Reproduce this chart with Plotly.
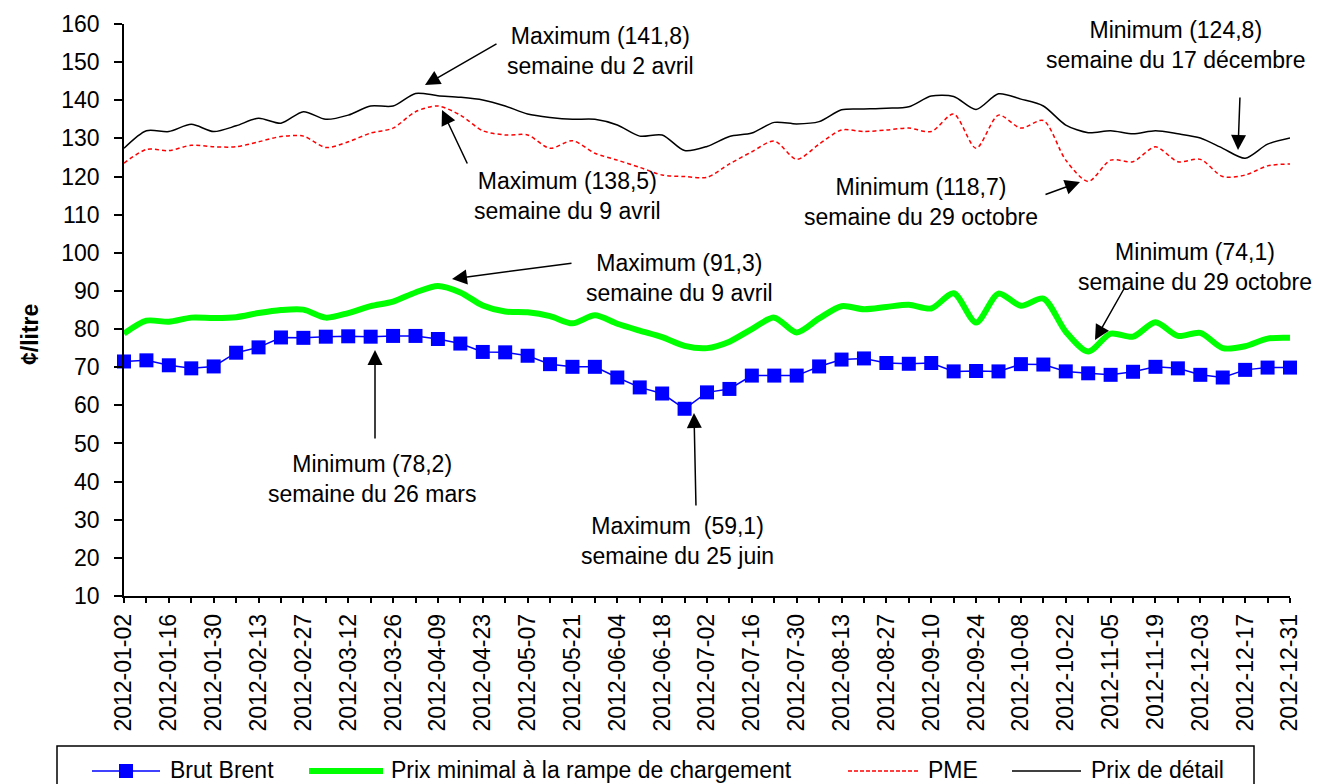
import plotly.graph_objects as go

# ---------------- data ----------------
weeks = [
    "2012-01-02", "2012-01-09", "2012-01-16", "2012-01-23", "2012-01-30",
    "2012-02-06", "2012-02-13", "2012-02-20", "2012-02-27",
    "2012-03-05", "2012-03-12", "2012-03-19", "2012-03-26",
    "2012-04-02", "2012-04-09", "2012-04-16", "2012-04-23", "2012-04-30",
    "2012-05-07", "2012-05-14", "2012-05-21", "2012-05-28",
    "2012-06-04", "2012-06-11", "2012-06-18", "2012-06-25",
    "2012-07-02", "2012-07-09", "2012-07-16", "2012-07-23", "2012-07-30",
    "2012-08-06", "2012-08-13", "2012-08-20", "2012-08-27",
    "2012-09-03", "2012-09-10", "2012-09-17", "2012-09-24",
    "2012-10-01", "2012-10-08", "2012-10-15", "2012-10-22", "2012-10-29",
    "2012-11-05", "2012-11-12", "2012-11-19", "2012-11-26",
    "2012-12-03", "2012-12-10", "2012-12-17", "2012-12-24", "2012-12-31",
]

brut_brent = [
    71.5, 71.8, 70.5, 69.7, 70.2, 73.8, 75.2, 77.8, 77.7, 78.0,
    78.1, 78.0, 78.2, 78.2, 77.4, 76.2, 74.0, 73.9, 73.0, 70.8,
    70.1, 70.1, 67.3, 64.7, 63.1, 59.1, 63.4, 64.3, 67.8, 67.8,
    67.8, 70.2, 72.0, 72.3, 71.1, 70.9, 71.1, 68.9, 69.0, 68.9,
    70.8, 70.7, 68.9, 68.4, 68.0, 68.8, 70.1, 69.7, 68.0, 67.3,
    69.3, 69.9, 69.9,
]

prix_rampe = [
    78.8, 82.2, 81.9, 83.0, 82.9, 83.1, 84.2, 85.0, 85.1, 83.0,
    84.2, 86.0, 87.2, 89.6, 91.3, 89.6, 86.2, 84.6, 84.4, 83.4,
    81.5, 83.6, 81.4, 79.6, 77.9, 75.6, 75.0, 76.7, 80.0, 83.0,
    79.1, 82.8, 86.0, 85.2, 85.8, 86.4, 85.4, 89.4, 81.7, 89.3,
    86.1, 88.0, 79.3, 74.1, 78.8, 78.0, 81.8, 78.2, 79.0, 75.0,
    75.5, 77.5, 77.7,
]

pme = [
    123.5, 127.1, 126.8, 128.2, 127.8, 127.8, 129.1, 130.5, 130.6, 127.6,
    129.1, 131.4, 132.7, 137.0, 138.5, 136.1, 132.0, 130.9, 130.9, 127.4,
    129.4, 126.1, 124.3, 122.4, 120.4, 120.0, 119.8, 123.3, 126.5, 129.3,
    124.5, 128.5, 132.2, 131.8, 132.2, 132.7, 131.8, 136.4, 127.4, 136.1,
    132.7, 134.7, 124.3, 118.7, 124.3, 123.9, 127.8, 123.9, 124.5, 120.0,
    120.4, 122.8, 123.3,
]

prix_detail = [
    127.4, 132.0, 131.8, 133.7, 131.8, 133.3, 135.3, 134.0, 137.0, 135.0,
    136.1, 138.5, 138.5, 141.8, 141.2, 140.8, 140.1, 138.5, 136.4, 135.5,
    135.0, 135.0, 133.5, 130.6, 130.9, 126.8, 127.9, 130.5, 131.4, 134.2,
    133.8, 134.4, 137.5, 137.7, 137.9, 138.3, 141.1, 141.0, 137.6, 141.7,
    140.3, 138.5, 133.5, 131.5, 132.0, 131.2, 132.0, 131.2, 130.1, 127.4,
    124.8, 128.5, 130.1,
]

series_names = ["Brut Brent", "Prix minimal à la rampe de chargement", "PME", "Prix de détail"]
series_colors = ["#0000FF", "#00FF00", "#FF0000", "#000000"]
y_axis_title = "¢/litre"
y_ticks = list(range(10, 161, 10))
x_tick_labels = [w if i % 2 == 0 else "" for i, w in enumerate(weeks)]

notes = [
    "Maximum (141,8)<br>semaine du 2 avril",
    "Maximum (138,5)<br>semaine du 9 avril",
    "Minimum (124,8)<br>semaine du 17 décembre",
    "Minimum (118,7)<br>semaine du 29 octobre",
    "Maximum (91,3)<br>semaine du 9 avril",
    "Minimum (74,1)<br>semaine du 29 octobre",
    "Minimum (78,2)<br>semaine du 26 mars",
    "Maximum\u00a0 (59,1)<br>semaine du 25 juin",
]

# ---------------- layout helpers (pixel -> paper) ----------------
W, H = 1320, 784
ML, MR, MT, MB = 124, 30, 24, 188
PW, PH = W - ML - MR, H - MT - MB


def px(x):
    return (x - ML) / PW


def py(y):
    return (H - MB - y) / PH


FONT = "Liberation Sans, Arial, sans-serif"

fig = go.Figure()
fig.add_trace(go.Scatter(
    x=weeks, y=brut_brent, name=series_names[0], mode="lines+markers",
    line=dict(color=series_colors[0], width=1.5),
    marker=dict(symbol="square", size=14, color=series_colors[0]),
    cliponaxis=False,
))
fig.add_trace(go.Scatter(
    x=weeks, y=prix_rampe, name=series_names[1], mode="lines",
    line=dict(color=series_colors[1], width=6, shape="spline", smoothing=0.8),
))
fig.add_trace(go.Scatter(
    x=weeks, y=pme, name=series_names[2], mode="lines",
    line=dict(color=series_colors[2], width=1.5, dash="4px,3px", shape="spline", smoothing=0.8),
))
fig.add_trace(go.Scatter(
    x=weeks, y=prix_detail, name=series_names[3], mode="lines",
    line=dict(color=series_colors[3], width=1.5, shape="spline", smoothing=0.8),
))

# text annotations (center positions in pixels)
text_pos = [(600, 51), (567, 196), (1176, 45), (921, 202),
            (679, 278), (1195, 267), (372, 479), (677, 541)]
# arrows: head (x, y) and tail (x, y) in pixels
arrows = [((425, 85), (498, 43)), ((442, 110), (468, 165)),
          ((1238, 150), (1240, 96)), ((1080, 182), (1044, 195)),
          ((452, 279), (573, 263)), ((1095, 340), (1125, 287)),
          ((375, 350), (375, 440)), ((694, 413), (696, 507))]

annotations = []
for t, (cx, cy) in zip(notes, text_pos):
    annotations.append(dict(
        text=t, x=px(cx), y=py(cy), xref="paper", yref="paper",
        xanchor="center", yanchor="middle", showarrow=False,
        font=dict(family=FONT, size=23, color="black"), align="center",
    ))
for (hx, hy), (tx, ty) in arrows:
    annotations.append(dict(
        text="", x=px(hx), y=py(hy), xref="paper", yref="paper",
        ax=tx - hx, ay=ty - hy, showarrow=True,
        arrowhead=2, arrowsize=2, arrowwidth=1.5, arrowcolor="black", standoff=0,
    ))
annotations.append(dict(
    text="<b>" + y_axis_title + "</b>", x=px(30), y=py(335), xref="paper", yref="paper",
    textangle=-90, showarrow=False, xanchor="center", yanchor="middle",
    font=dict(family=FONT, size=23, color="black"),
))

# ---------------- legend (drawn in paper space, below the axis) ----------------
legend_box = (57, 746, 1254, 800)
legend_y = 770
legend_sym = [(92, 160), (309, 383), (848, 918), (1012, 1081)]
legend_txt_x = [168, 389, 926, 1089]
legend_sym_width = [1.5, 6, 1.5, 1.5]
legend_sym_dash = ["solid", "solid", "4px,2px", "solid"]

shapes = [dict(
    type="rect", xref="paper", yref="paper",
    x0=px(legend_box[0]), x1=px(legend_box[2]), y0=py(legend_box[1]), y1=py(legend_box[3]),
    line=dict(color="black", width=1.5), fillcolor="white", layer="above",
)]
for (x0, x1), col, lw, dsh in zip(legend_sym, series_colors, legend_sym_width, legend_sym_dash):
    shapes.append(dict(
        type="line", xref="paper", yref="paper",
        x0=px(x0), x1=px(x1), y0=py(legend_y + 1), y1=py(legend_y + 1),
        line=dict(color=col, width=lw, dash=dsh), layer="above",
    ))
mx = (legend_sym[0][0] + legend_sym[0][1]) / 2
shapes.append(dict(
    type="rect", xref="paper", yref="paper",
    x0=px(mx - 7), x1=px(mx + 7), y0=py(legend_y + 8), y1=py(legend_y - 6),
    line=dict(color=series_colors[0], width=0), fillcolor=series_colors[0], layer="above",
))
for name, tx in zip(series_names, legend_txt_x):
    annotations.append(dict(
        text=name, x=px(tx), y=py(legend_y), xref="paper", yref="paper",
        xanchor="left", yanchor="middle", showarrow=False,
        font=dict(family=FONT, size=23, color="black"),
    ))

fig.update_layout(
    width=W, height=H,
    margin=dict(l=ML, r=MR, t=MT, b=MB, autoexpand=False),
    paper_bgcolor="white", plot_bgcolor="white",
    font=dict(family=FONT, color="black"),
    showlegend=False,
    xaxis=dict(
        type="category", range=[0, len(weeks) - 1],
        tickmode="array", tickvals=weeks, ticktext=x_tick_labels,
        tickangle=-90, ticks="outside", ticklen=5, tickwidth=1.5, tickcolor="black",
        showline=True, linecolor="black", linewidth=1.5,
        showgrid=False, zeroline=False,
        tickfont=dict(family=FONT, size=23, color="black"),
        ticklabelstandoff=2,
    ),
    xaxis2=dict(
        overlaying="x", anchor="y", side="bottom",
        range=[0, len(weeks) - 1], tickmode="array", tickvals=list(range(len(weeks))),
        ticks="inside", ticklen=5, tickwidth=1.5, tickcolor="black",
        showticklabels=False, showline=False, showgrid=False, zeroline=False,
    ),
    yaxis=dict(
        range=[y_ticks[0], y_ticks[-1]], tickmode="array", tickvals=y_ticks,
        ticks="outside", ticklen=8, tickwidth=1.5, tickcolor="black",
        showline=True, linecolor="black", linewidth=1.5,
        showgrid=False, zeroline=False,
        tickfont=dict(family=FONT, size=23, color="black"),
        ticklabelstandoff=10,
    ),
    yaxis2=dict(
        overlaying="y", anchor="x", side="left",
        range=[y_ticks[0], y_ticks[-1]], tickmode="array", tickvals=y_ticks,
        ticks="inside", ticklen=8, tickwidth=1.5, tickcolor="black",
        showticklabels=False, showline=False, showgrid=False, zeroline=False,
    ),
    annotations=annotations,
    shapes=shapes,
)

fig.write_html(
    "out.html",
    config={"displayModeBar": False},
    post_script="document.body.style.margin='0';document.body.style.overflow='hidden';",
)
